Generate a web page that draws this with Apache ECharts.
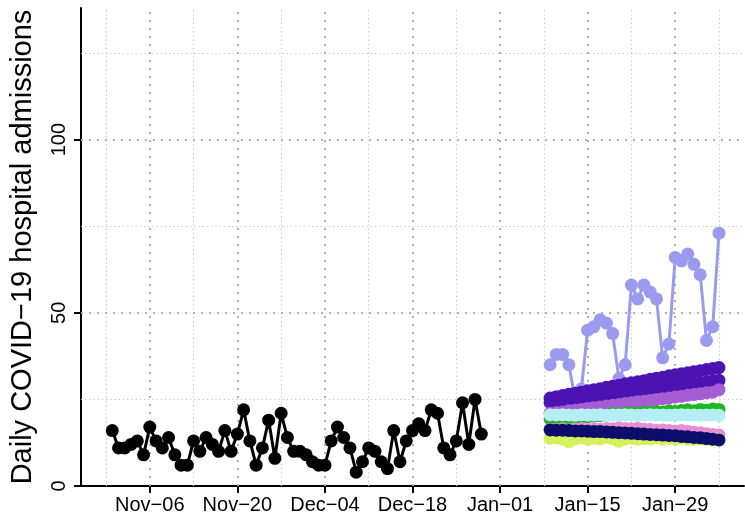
<!DOCTYPE html>
<html><head><meta charset="utf-8">
<script src="https://cdn.jsdelivr.net/npm/echarts@6/dist/echarts.min.js"></script>
<style>html,body{margin:0;padding:0;background:#fff}#c{width:745px;height:519px}</style>
</head><body><div id="c"></div>
<script>
// ---- axis definitions ----
const axisStart = '2021-10-26';
const axisEnd = '2022-02-09';
const xTickDates = ['2021-11-06','2021-11-20','2021-12-04','2021-12-18','2022-01-01','2022-01-15','2022-01-29'];
const xTickLabels = ['Nov\u221206','Nov\u221220','Dec\u221204','Dec\u221218','Jan\u221201','Jan\u221215','Jan\u221229'];
const xMinorDates = ['2021-10-30','2021-11-13','2021-11-27','2021-12-11','2021-12-25','2022-01-08','2022-01-22','2022-02-05'];
const yTicks = [0, 50, 100];
const yMajorGrid = [50, 100];
const yMinorGrid = [25, 75, 125];

// ---- observed admissions (daily from Oct-31) ----
const observedStart = '2021-10-31';
const observed = [16,11,11,12,13,9,17,13,11,14,9,6,6,13,10,14,12,10,16,10,
                  15,22,13,6,11,19,8,21,14,10,10,9,7,6,6,13,17,14,11,4,
                  7,11,10,7,5,16,7,13,16,18,16,22,21,11,9,13,24,12,25,15];

// ---- forecasts (daily from Jan-09) ----
const forecastStart = '2022-01-09';
const fcPeriwinkle = [35,38,38,35,25,28,45,46,48,47,44,31,35,58,54,58,56,54,37,41,66,65,67,64,61,42,46,73];
const fcDarkA = [25.4,25.8,26.1,26.5,26.8,27.1,27.5,27.8,28.1,28.5,28.8,29.1,29.5,29.8,30.1,30.4,30.8,31.1,31.4,31.8,32.1,32.4,32.7,33.0,33.3,33.6,33.9,34.2];
const fcDarkB = [24.1,24.3,24.6,24.8,25.0,25.3,25.5,25.8,26.0,26.2,26.5,26.7,26.9,27.2,27.4,27.7,27.9,28.1,28.4,28.6,28.9,29.1,29.3,29.6,29.8,30.0,30.3,30.5];
const fcMedPurple = [21.0,21.2,21.4,21.7,21.9,22.1,22.4,22.6,22.8,23.1,23.3,23.5,23.8,24.0,24.3,24.5,24.7,25.0,25.2,25.4,25.7,25.9,26.2,26.4,26.6,26.9,27.1,27.8];
const fcGreen = [19.4,19.5,19.5,19.7,19.8,19.9,20.0,20.2,20.3,20.5,20.9,20.8,21.0,21.1,21.0,21.3,21.2,21.5,21.4,21.7,21.5,21.8,22.0,21.7,22.1,21.9,22.2,22.1];
const fcCyan = [20.6,20.5,20.6,20.5,20.4,20.6,20.5,20.5,20.6,20.4,20.5,20.5,20.6,20.5,20.4,20.5,20.6,20.5,20.5,20.4,20.5,20.6,20.5,20.5,20.4,20.5,20.5,20.4];
const fcPink = [16.4,16.3,16.5,16.2,16.4,16.6,16.3,16.5,16.4,16.6,16.5,16.8,16.6,16.5,16.7,16.4,16.3,16.1,16.2,16.0,15.8,16.0,15.7,15.5,15.4,15.1,14.9,14.7];
const fcNavy = [16.2,16.1,16.1,16.0,15.9,15.9,15.8,15.7,15.7,15.6,15.5,15.4,15.3,15.2,15.1,15.0,14.9,14.8,14.7,14.6,14.5,14.3,14.2,14.0,13.9,13.7,13.5,13.3];
const fcYellowGreen = [13.8,13.9,13.5,12.8,13.6,13.9,13.5,13.8,13.6,14.0,13.7,12.9,13.6,13.8,13.5,13.7,13.6,13.9,13.5,13.7,13.6,13.8,13.5,13.4,13.6,13.5,13.3,13.4];

// ---- helpers ----
const DAY = 86400000;
function parse(s){ const p = s.split('-').map(Number); return Date.UTC(p[0], p[1]-1, p[2]); }
function fmt(t){ const d = new Date(t); const m = d.getUTCMonth()+1, dd = d.getUTCDate();
  return d.getUTCFullYear() + '-' + (m<10?'0':'') + m + '-' + (dd<10?'0':'') + dd; }
const categories = [];
for (let t = parse(axisStart); t <= parse(axisEnd); t += DAY) categories.push(fmt(t));
function pairs(start, vals){ const t0 = parse(start); return vals.map((v,i)=>[fmt(t0 + i*DAY), v]); }
const tickSet = new Set(xTickDates.map(d => categories.indexOf(d)));
const labelMap = {}; xTickDates.forEach((d,i)=> labelMap[d] = xTickLabels[i]);

const FONT = 'Liberation Sans';
const majorStyle = {color:'#b0b0b0', width:2, type:[2,6]};
const minorStyle = {color:'#c4c4c4', width:1.2, type:[1.2,3]};

const gridLines = [].concat(
  xMinorDates.map(d => ({xAxis: d, lineStyle: minorStyle})),
  yMinorGrid.map(v => ({yAxis: v, lineStyle: minorStyle})),
  xTickDates.map(d => ({xAxis: d, lineStyle: majorStyle})),
  yMajorGrid.map(v => ({yAxis: v, lineStyle: majorStyle}))
);

function fc(name, color, vals){
  return {type:'line', name, data: pairs(forecastStart, vals), symbol:'circle', symbolSize:13,
    showAllSymbol:true, itemStyle:{color}, lineStyle:{color, width:3}, z:3};
}

const chart = echarts.init(document.getElementById('c'), null, {renderer:'canvas'});
chart.setOption({
  animation:false,
  backgroundColor:'#fff',
  grid:{left:80, right:1, top:8, bottom:33, containLabel:false},
  xAxis:{type:'category', data:categories, boundaryGap:false,
    axisLine:{show:true, onZero:false, lineStyle:{color:'#000', width:2}},
    axisTick:{show:true, length:7, interval:(i)=>tickSet.has(i), lineStyle:{color:'#000', width:2}},
    axisLabel:{show:true, interval:(i)=>tickSet.has(i), formatter:(v)=>labelMap[v]||'', color:'#000',
      fontFamily:FONT, fontSize:20, margin:9},
    splitLine:{show:false}},
  yAxis:{type:'value', min:0, max:138, interval:50,
    axisLine:{show:true, lineStyle:{color:'#000', width:2}},
    axisTick:{show:true, length:7, customValues:yTicks, lineStyle:{color:'#000', width:2}},
    axisLabel:{show:true, customValues:yTicks, rotate:90, color:'#000', fontFamily:FONT, fontSize:20, margin:12},
    splitLine:{show:false},
    name:'Daily COVID\u221219 hospital admissions', nameLocation:'middle', nameRotate:90, nameGap:44,
    nameTextStyle:{color:'#000', fontFamily:FONT, fontSize:29}},
  series:[
    {type:'line', name:'observed', data: pairs(observedStart, observed), symbol:'circle', symbolSize:13,
      showAllSymbol:true, itemStyle:{color:'#000'}, lineStyle:{color:'#000', width:3}, z:3,
      markLine:{silent:true, z:1, symbol:['none','none'], label:{show:false}, animation:false, data:gridLines}},
    fc('m1', '#9A9AEE', fcPeriwinkle),
    fc('m2', '#4B14B2', fcDarkA),
    fc('m3', '#4B14B2', fcDarkB),
    fc('m4', '#A65DD4', fcMedPurple),
    fc('m5', '#1EB81E', fcGreen),
    fc('m6', '#B6EEF6', fcCyan),
    fc('m7', '#E690D4', fcPink),
    fc('m8', '#D5F25C', fcYellowGreen),
    fc('m9', '#0D0D6C', fcNavy)
  ]
});
</script></body></html>
